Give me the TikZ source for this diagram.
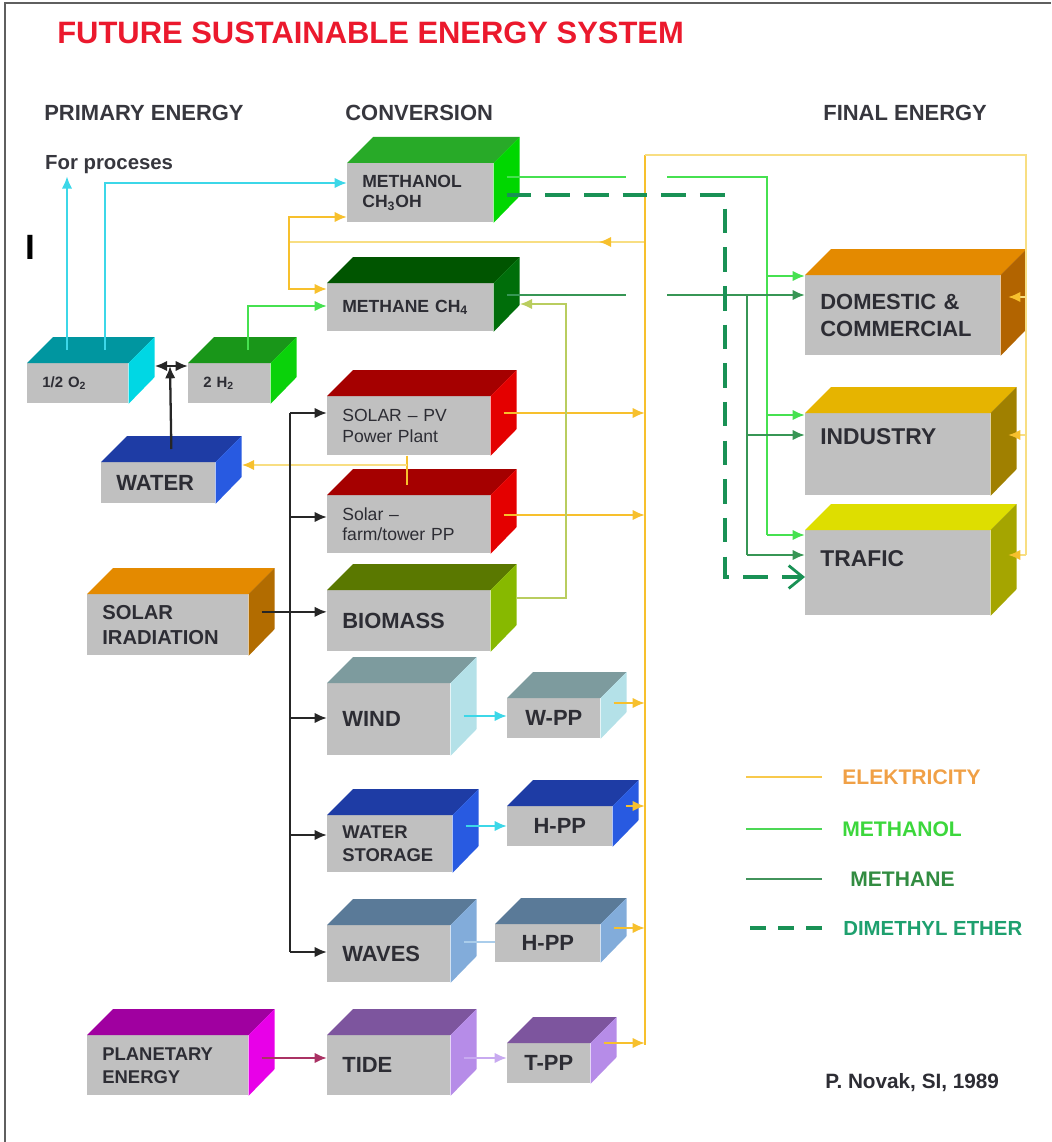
\documentclass[tikz,border=0pt]{standalone}
\usepackage{fontspec}
\setmainfont{Liberation Sans}
\usetikzlibrary{arrows.meta,decorations.markings}

\definecolor{facegray}{RGB}{192,192,192}
\definecolor{labelgray}{RGB}{45,45,52}
\definecolor{headgray}{RGB}{55,55,62}
\definecolor{titlered}{RGB}{235,25,45}
\definecolor{framegray}{RGB}{95,95,95}
% faces of the boxes
\definecolor{meohtop}{RGB}{40,170,40}   \definecolor{meohsd}{RGB}{0,215,0}
\definecolor{methtop}{RGB}{0,85,0}      \definecolor{methsd}{RGB}{0,110,10}
\definecolor{oxytop}{RGB}{0,150,160}    \definecolor{oxysd}{RGB}{0,215,228}
\definecolor{hydtop}{RGB}{25,150,25}    \definecolor{hydsd}{RGB}{10,210,10}
\definecolor{bluetop}{RGB}{30,60,165}   \definecolor{bluesd}{RGB}{40,90,225}
\definecolor{redtop}{RGB}{165,0,0}      \definecolor{redsd}{RGB}{228,0,0}
\definecolor{suntop}{RGB}{228,138,0}    \definecolor{sunsd}{RGB}{178,108,0}
\definecolor{biotop}{RGB}{90,120,0}     \definecolor{biosd}{RGB}{135,185,0}
\definecolor{windtop}{RGB}{125,155,158} \definecolor{windsd}{RGB}{180,225,232}
\definecolor{wavetop}{RGB}{90,122,152}  \definecolor{wavesd}{RGB}{130,172,218}
\definecolor{planettop}{RGB}{160,0,160} \definecolor{planetsd}{RGB}{232,0,232}
\definecolor{tidetop}{RGB}{125,85,158}  \definecolor{tidesd}{RGB}{182,140,232}
\definecolor{domtop}{RGB}{228,138,0}    \definecolor{domsd}{RGB}{178,100,0}
\definecolor{indtop}{RGB}{230,180,0}    \definecolor{indsd}{RGB}{160,128,0}
\definecolor{traftop}{RGB}{222,222,0}   \definecolor{trafsd}{RGB}{165,165,0}
% lines
\definecolor{elec}{RGB}{247,192,45}
\definecolor{elecpale}{RGB}{248,222,130}
\definecolor{meohl}{RGB}{70,225,80}
\definecolor{methl}{RGB}{55,150,85}
\definecolor{dmel}{RGB}{25,145,85}
\definecolor{cyanl}{RGB}{60,215,232}
\definecolor{biol}{RGB}{185,205,95}
\definecolor{tidel}{RGB}{170,50,100}
\definecolor{tppl}{RGB}{200,170,240}
\definecolor{wavel}{RGB}{170,205,235}
% legend texts
\definecolor{elektxt}{RGB}{240,160,70}
\definecolor{meohtxt}{RGB}{60,215,60}
\definecolor{methtxt}{RGB}{50,140,65}
\definecolor{dmetxt}{RGB}{30,160,110}

% [options]{name}{x}{y}{width}{height}{top}{side}{text}
\newcommand{\cuboid}[9][]{%
  \pgfmathsetlengthmacro\cubetw{#5*0.02cm-0.6cm}
  \node[front,minimum width=#5*0.02cm,minimum height=#6*0.02cm,text width=\cubetw,#1] (#2) at (#3,#4) {#9};
  \fill[#7] (#2.north west) -- ++(26,-26) -- ([shift={(26,-26)}]#2.north east) -- (#2.north east) -- cycle;
  \fill[#8] (#2.north east) -- ++(26,-26) -- ++(0,#6) -- (#2.south east) -- cycle;
  \coordinate (#2side) at ([shift={(13,-13)}]#2.east);
  \coordinate (#2edge) at ([shift={(26,-13)}]#2.east);
}

\begin{document}
\begin{tikzpicture}[x=0.02cm,y=-0.02cm,
    front/.style={anchor=north west,fill=facegray,inner xsep=0.3cm,inner ysep=0pt,
      align=left,text=labelgray,font=\bfseries\fontsize{12.5}{15}\selectfont},
    smalltxt/.style={font=\bfseries\fontsize{10}{11.5}\selectfont},
    tinytxt/.style={font=\bfseries\fontsize{8.5}{10}\selectfont},
    thintxt/.style={font=\fontsize{10}{11.5}\selectfont},
    midtxt/.style={font=\bfseries\fontsize{10.5}{13}\selectfont},
    bigtxt/.style={font=\bfseries\fontsize{13}{15}\selectfont},
    head/.style={anchor=west,inner sep=0pt,text=headgray,font=\bfseries\fontsize{12.5}{15}\selectfont},
    legendtxt/.style={anchor=west,inner sep=0pt,font=\bfseries\fontsize{12}{14}\selectfont},
    tip/.style={-{Latex[length=7pt,width=6pt]}},
    etip/.style={-{Latex[length=7pt,width=6pt,color=elec]}},
    blk/.style={draw=black!85,line width=1.3pt},
    eline/.style={draw=elec,line width=1.4pt},
    epale/.style={draw=elecpale,line width=1.4pt},
    cyanln/.style={draw=cyanl,line width=1.4pt},
    meohln/.style={draw=meohl,line width=1.4pt},
    methln/.style={draw=methl,line width=1.4pt},
    dmeln/.style={draw=dmel,line width=2.4pt,dash pattern=on 14pt off 8pt,
      -{Straight Barb[length=8pt,width=13pt,line width=1.6pt]}},
    midleft/.style={postaction={decorate},decoration={markings,
      mark=at position 0.13 with {\arrow{Latex[length=7pt,width=6pt,color=elec]}}}},
  ]
  \useasboundingbox (0,0) rectangle (1051,1142);
  \draw[framegray,line width=1.5pt] (5,1142) -- (5,3) -- (1051,3);

  % titles
  \node[anchor=west,inner sep=0pt,text=titlered,font=\bfseries\fontsize{17.6}{20}\selectfont] (title) at (57,33) {FUTURE SUSTAINABLE ENERGY SYSTEM};
  \node[head] (hprim) at (44,113) {PRIMARY ENERGY};
  \node[head] (hconv) at (345,113) {CONVERSION};
  \node[head] (hfin) at (823,113) {FINAL ENERGY};
  \node[head,inner sep=1pt,font=\bfseries\fontsize{11.6}{14}\selectfont] (proc) at (43,165) {For proceses};
  \node[inner sep=0pt,font=\bfseries\fontsize{20}{20}\selectfont] (mark) at (30,247) {I};

  % boxes
  \cuboid[smalltxt]{meoh}{347}{163}{146}{59}{meohtop}{meohsd}{METHANOL\\CH\textsubscript{3}OH}
  \cuboid[smalltxt]{meth}{327}{283}{166}{48}{methtop}{methsd}{METHANE CH\textsubscript{4}}
  \cuboid[tinytxt]{oxy}{27}{363}{101}{40}{oxytop}{oxysd}{1/2 O\textsubscript{2}}
  \cuboid[tinytxt]{hyd}{188}{363}{82}{40}{hydtop}{hydsd}{2 H\textsubscript{2}}
  \cuboid{water}{101}{462}{114}{41}{bluetop}{bluesd}{WATER}
  \cuboid[thintxt]{pv}{327}{396}{163}{59}{redtop}{redsd}{SOLAR – PV\\Power Plant}
  \cuboid[thintxt]{farm}{327}{495}{163}{58}{redtop}{redsd}{Solar –\\farm/tower PP}
  \cuboid[font=\bfseries\fontsize{11.5}{14}\selectfont]{sun}{87}{594}{161}{61}{suntop}{sunsd}{SOLAR\\IRADIATION}
  \cuboid{bio}{327}{590}{163}{61}{biotop}{biosd}{BIOMASS}
  \cuboid{wind}{327}{683}{123}{72}{windtop}{windsd}{WIND}
  \cuboid[align=center]{wpp}{507}{698}{93}{40}{windtop}{windsd}{W-PP}
  \cuboid[midtxt]{stor}{327}{815}{125}{57}{bluetop}{bluesd}{WATER\\STORAGE}
  \cuboid[align=center]{hpp}{507}{806}{105}{40}{bluetop}{bluesd}{H-PP}
  \cuboid{wave}{327}{925}{123}{57}{wavetop}{wavesd}{WAVES}
  \cuboid[align=center]{hppw}{495}{924}{105}{38}{wavetop}{wavesd}{H-PP}
  \cuboid[midtxt]{planet}{87}{1035}{161}{60}{planettop}{planetsd}{PLANETARY\\ENERGY}
  \cuboid{tide}{327}{1035}{123}{60}{tidetop}{tidesd}{TIDE}
  \cuboid[align=center]{tpp}{507}{1043}{83}{40}{tidetop}{tidesd}{T-PP}
  \cuboid{dom}{805}{275}{195}{80}{domtop}{domsd}{DOMESTIC \&\\COMMERCIAL}
  \cuboid[bigtxt,text depth=20pt]{ind}{805}{413}{185}{82}{indtop}{indsd}{INDUSTRY}
  \cuboid[bigtxt,text depth=16pt]{traf}{805}{530}{185}{85}{traftop}{trafsd}{TRAFIC}

  % junctions
  \coordinate (bus) at (645,155);
  \coordinate (ring) at (1026,155);
  \coordinate (gapl) at (626,0);
  \coordinate (gapr) at (667,0);
  \coordinate (sbus) at (290,413);
  \coordinate (ej) at (289,242);
  \coordinate (mj) at (767,177);
  \coordinate (cj) at (747,295);
  \coordinate (dj) at (725,195);
  \coordinate (bj) at (566,304);
  \coordinate (split) at (170,366);
  \coordinate (pvw) at (407,465);

  % oxygen and hydrogen
  \draw[cyanln,tip] ([shift={(40,-13)}]oxy.north west) coordinate (oxa) -- (oxa |- proc.south);
  \draw[cyanln,tip] ([shift={(78,-13)}]oxy.north west) |- (meoh.west |- 0,183);
  \draw[blk,tip] ([shift={(13,-13)}]water.north) -- (split);
  \draw[blk,{Latex[length=7pt,width=6pt]}-{Latex[length=7pt,width=6pt]}] (oxyedge |- split) -- (hyd.west |- split);
  \draw[meohln,tip] ([shift={(60,-13)}]hyd.north west) |- (meth.west |- 0,306);

  % electricity back to the synthesis
  \draw[epale,midleft] (bus |- ej) -- (ej);
  \draw[eline,tip] (ej) |- (meoh.west |- 0,217);
  \draw[eline,tip] (ej) |- (meth.west |- 0,289);
  \draw[eline] (pvw |- pv.south) -- (pvw |- 0,485);
  \draw[epale,etip] (pvw) -- (wateredge |- pvw);

  % solar irradiation
  \draw[blk] (sbus) -- (sbus |- 0,952);
  \draw[blk,tip] (sunside) -- (bio.west |- sunside);
  \draw[blk,tip] (sbus |- 0,413) -- (pv.west |- 0,413);
  \draw[blk,tip] (sbus |- 0,517) -- (farm.west |- 0,517);
  \draw[blk,tip] (sbus |- 0,718) -- (wind.west |- 0,718);
  \draw[blk,tip] (sbus |- 0,835) -- (stor.west |- 0,835);
  \draw[blk,tip] (sbus |- 0,952) -- (wave.west |- 0,952);

  % to the power plants
  \draw[cyanln,tip] (windside |- 0,716) -- (wpp.west |- 0,716);
  \draw[cyanln,tip] (storside |- 0,826) -- (hpp.west |- 0,826);
  \draw[draw=wavel,line width=1.4pt] (waveside |- 0,942) -- (hppw.west |- 0,942);
  \draw[draw=tidel,line width=1.4pt,tip] (planetside |- 0,1058) -- (tide.west |- 0,1058);
  \draw[draw=tppl,line width=1.4pt,tip] (tideside |- 0,1058) -- (tpp.west |- 0,1058);

  % electricity bus
  \draw[eline] (bus) -- (bus |- 0,1045);
  \draw[eline,tip] (pvside |- 0,413) -- (bus |- 0,413);
  \draw[eline,tip] (farmside |- 0,515) -- (bus |- 0,515);
  \draw[eline,tip] (wppside |- 0,703) -- (bus |- 0,703);
  \draw[eline,tip] (hppside |- 0,806) -- (bus |- 0,806);
  \draw[eline,tip] (hppwside |- 0,928) -- (bus |- 0,928);
  \draw[eline,tip] (tppside |- 0,1043) -- (bus |- 0,1043);
  \draw[epale] (bus) -- (ring) -- (ring |- 0,555);
  \draw[epale,etip] (ring |- 0,297) -- ++(-18,0);
  \draw[epale,etip] (ring |- 0,435) -- ++(-18,0);
  \draw[epale,etip] (ring |- 0,555) -- ++(-18,0);

  % methanol
  \draw[meohln] (meohside |- mj) -- (gapl |- mj);
  \draw[meohln] (gapr |- mj) -- (mj) -- (mj |- 0,535);
  \draw[meohln,tip] (mj |- 0,276) -- (dom.west |- 0,276);
  \draw[meohln,tip] (mj |- 0,415) -- (ind.west |- 0,415);
  \draw[meohln,tip] (mj |- 0,535) -- (traf.west |- 0,535);

  % methane
  \draw[methln] (methside |- cj) -- (gapl |- cj);
  \draw[methln,tip] (gapr |- cj) -- (dom.west |- cj);
  \draw[methln] (cj) -- (cj |- 0,555);
  \draw[methln,tip] (cj |- 0,435) -- (ind.west |- 0,435);
  \draw[methln,tip] (cj |- 0,555) -- (traf.west |- 0,555);
  \draw[draw=biol,line width=1.4pt,tip] (bioedge |- 0,598) -| (bj) -- (methedge |- bj);

  % dimethyl ether
  \draw[dmeln] (meohside |- dj) -| (dj |- 0,577) -- (traf.west |- 0,577);

  % legend
  \node[legendtxt,text=elektxt] (lgel) at (842,777) {ELEKTRICITY};
  \node[legendtxt,text=meohtxt] (lgmeoh) at (842,829) {METHANOL};
  \node[legendtxt,text=methtxt] (lgmeth) at (850,879) {METHANE};
  \node[legendtxt,text=dmetxt,font=\bfseries\fontsize{11.6}{14}\selectfont] (lgdme) at (843,928) {DIMETHYL ETHER};
  \draw[draw=elec!85,line width=1.4pt] ([xshift=-0.4cm]lgel.west) -- ++(-76,0);
  \draw[draw=meohl!90!gray,line width=1.4pt] ([xshift=-0.4cm]lgmeoh.west) -- ++(-76,0);
  \draw[draw=methl!85!gray,line width=1.4pt] ([xshift=-0.56cm]lgmeth.west) -- ++(-76,0);
  \draw[draw=dmel,line width=2.4pt,dash pattern=on 9pt off 7pt] ([xshift=-0.42cm]lgdme.west) -- ++(-72,0);
  \node[anchor=west,inner sep=0pt,text=labelgray,font=\bfseries\fontsize{11.8}{14}\selectfont] (author) at (825,1083) {P. Novak, SI, 1989};
\end{tikzpicture}
\end{document}
